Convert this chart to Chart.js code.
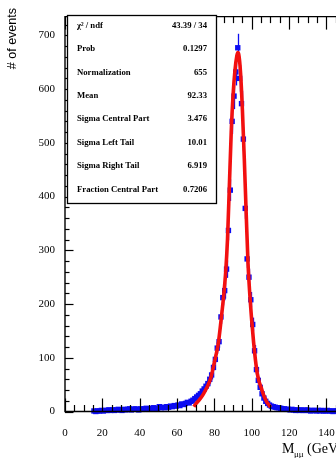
<!DOCTYPE html>
<html><head><meta charset="utf-8">
<script src="https://cdn.jsdelivr.net/npm/chart.js@4/dist/chart.umd.min.js"></script>
<style>
html,body{margin:0;padding:0;background:#fff;overflow:hidden;width:336px;height:458px}
#wrap{position:relative;width:350px;height:458px}
canvas{display:block}
</style></head><body>
<div id="wrap"><canvas id="c" width="350" height="458" style="width:350px;height:458px"></canvas></div>
<script>
// ---- data ----
const massBins = [15.5,16.5,17.5,18.5,19.5,20.5,21.5,22.5,23.5,24.5,25.5,26.5,27.5,28.5,29.5,30.5,31.5,32.5,33.5,34.5,35.5,36.5,37.5,38.5,39.5,40.5,41.5,42.5,43.5,44.5,45.5,46.5,47.5,48.5,49.5,50.5,51.5,52.5,53.5,54.5,55.5,56.5,57.5,58.5,59.5,60.5,61.5,62.5,63.5,64.5,65.5,66.5,67.5,68.5,69.5,70.5,71.5,72.5,73.5,74.5,75.5,76.5,77.5,78.5,79.5,80.5,81.5,82.5,83.5,84.5,85.5,86.5,87.5,88.5,89.5,90.5,91.5,92.5,93.5,94.5,95.5,96.5,97.5,98.5,99.5,100.5,101.5,102.5,103.5,104.5,105.5,106.5,107.5,108.5,109.5,110.5,111.5,112.5,113.5,114.5,115.5,116.5,117.5,118.5,119.5,120.5,121.5,122.5,123.5,124.5,125.5,126.5,127.5,128.5,129.5,130.5,131.5,132.5,133.5,134.5,135.5,136.5,137.5,138.5,139.5,140.5,141.5,142.5,143.5,144.5,145.5,146.5,147.5,148.5,149.5];
const eventCounts = [1,0,1,1,2,1,2,2,3,2,3,2,3,4,3,2,4,3,4,5,3,4,5,4,3,5,4,5,6,4,5,6,7,5,6,9,7,8,7,9,8,10,9,11,10,12,11,14,13,15,17,16,19,21,24,27,30,33,38,42,47,52,60,68,82,97,118,130,176,212,225,265,337,412,540,587,632,677,620,573,507,378,284,250,208,162,113,78,58,45,33,25,19,15,12,10,9,8,7,7,6,5,5,4,4,3,4,3,2,3,2,3,2,2,3,2,1,2,2,1,2,1,2,1,1,2,1,1,0,1,1,0,1,1,0];
const fitMass = [69,70,72,74,76,78,79,80,82,83.5,85,86,87,88,89,90,91,92,92.5,93,94,95,96,97,98,99,100,101,102,103,104,105,106,107,108,109,110];
const fitValues = [9,14,22,32,45,62,76,92,125,168,217,258,320,420,520,590,635,662,668,665,630,560,470,370,275,215,168,128,95,70,55,45,34,25,18,13,8];
const xTickValues = [0,20,40,60,80,100,120,140];
const yTickValues = [0,100,200,300,400,500,600,700];
const statLabels = ['\u03C7\u00B2 / ndf','Prob','Normalization','Mean','Sigma Central Part','Sigma Left Tail','Sigma Right Tail','Fraction Central Part'];
const statValues = ['43.39 / 34','0.1297','655','92.33','3.476','10.01','6.919','0.7206'];

const BLUE = '#0c0cf2';
const RED = '#f21010';
const SERIF = '"Liberation Serif","Times New Roman",serif';
const SANS = '"Liberation Sans",Arial,sans-serif';

const decorPlugin = {
  id: 'decor',
  beforeDatasetsDraw(chart) {
    const {ctx, scales: {x, y}} = chart;
    ctx.save();
    ctx.strokeStyle = BLUE;
    ctx.lineWidth = 1.3;
    massBins.forEach((m, i) => {
      const v = eventCounts[i];
      const e = Math.sqrt(v);
      const px = Math.round(x.getPixelForValue(m)) + 0.5;
      ctx.beginPath();
      ctx.moveTo(px, y.getPixelForValue(v - e));
      ctx.lineTo(px, y.getPixelForValue(v + e));
      ctx.stroke();
    });
    ctx.restore();
  },
  afterDraw(chart) {
    const {ctx, chartArea: a, scales: {x, y}} = chart;
    ctx.save();
    ctx.strokeStyle = '#000';
    ctx.lineWidth = 1.4;
    // frame
    ctx.beginPath();
    ctx.moveTo(a.right + 5, a.top); ctx.lineTo(a.left, a.top);
    ctx.lineTo(a.left, a.bottom); ctx.lineTo(a.right + 5, a.bottom);
    ctx.stroke();
    ctx.lineWidth = 1.2;
    // y ticks (inward)
    for (let v = 0; v <= y.max; v += 20) {
      const py = Math.round(y.getPixelForValue(v)) + 0.5;
      const len = v % 100 === 0 ? 8.5 : 4.5;
      ctx.beginPath(); ctx.moveTo(a.left, py); ctx.lineTo(a.left + len, py); ctx.stroke();
    }
    // x ticks bottom & top (inward)
    for (let m = 0; m <= x.max; m += 5) {
      const px = Math.round(x.getPixelForValue(m)) + 0.5;
      const len = m % 20 === 0 ? 13 : 6.5;
      ctx.beginPath(); ctx.moveTo(px, a.bottom); ctx.lineTo(px, a.bottom - len); ctx.stroke();
      ctx.beginPath(); ctx.moveTo(px, a.top); ctx.lineTo(px, a.top + len); ctx.stroke();
    }
    // stats box
    ctx.fillStyle = '#fff';
    ctx.fillRect(67, 15, 149, 188);
    ctx.lineWidth = 1.3;
    ctx.strokeRect(67.5, 15.5, 149, 188);
    ctx.fillStyle = '#000';
    ctx.font = 'bold 8.7px ' + SERIF;
    ctx.textBaseline = 'middle';
    statLabels.forEach((lab, i) => {
      const ty = 25.5 + i * 23.4;
      ctx.textAlign = 'left';
      ctx.fillText(lab, 77, ty);
      ctx.textAlign = 'right';
      ctx.fillText(statValues[i], 207, ty);
    });
    // y title
    ctx.save();
    ctx.translate(13, 8);
    ctx.rotate(-Math.PI / 2);
    ctx.font = '12.5px ' + SANS;
    ctx.textAlign = 'right';
    ctx.textBaseline = 'middle';
    ctx.fillText('# of events', 0, 0);
    ctx.restore();
    // x title
    ctx.textAlign = 'left';
    ctx.textBaseline = 'alphabetic';
    ctx.font = '14px ' + SERIF;
    ctx.fillText('M', 282, 453);
    ctx.font = '9px ' + SERIF;
    ctx.fillText('\u03BC\u03BC', 294, 457);
    ctx.font = '14px ' + SERIF;
    ctx.fillText('(GeV)', 307, 453);
    ctx.restore();
  }
};

new Chart(document.getElementById('c'), {
  type: 'scatter',
  data: {
    datasets: [
      {
        label: 'fit',
        data: fitMass.map((m, i) => ({x: m, y: fitValues[i]})),
        showLine: true,
        borderColor: RED,
        borderWidth: 3.6,
        pointRadius: 0,
        cubicInterpolationMode: 'monotone',
        fill: false
      },
      {
        label: 'data',
        data: massBins.map((m, i) => ({x: m, y: eventCounts[i]})),
        pointStyle: 'rect',
        pointRadius: 3.8,
        backgroundColor: BLUE,
        borderColor: BLUE,
        borderWidth: 0,
        clip: false
      }
    ]
  },
  options: {
    responsive: false,
    devicePixelRatio: 1,
    animation: false,
    events: [],
    layout: {padding: {left: 0, top: 10, right: 3, bottom: 0}},
    plugins: {legend: {display: false}, tooltip: {enabled: false}},
    scales: {
      x: {
        type: 'linear', min: 0, max: 150,
        grid: {display: false, drawTicks: false},
        border: {display: false},
        afterBuildTicks(s) { s.ticks = xTickValues.map(v => ({value: v})); },
        afterFit(s) { s.height = 46.5; },
        ticks: {padding: 15, color: '#000', font: {family: SERIF, size: 11}, maxRotation: 0, autoSkip: false}
      },
      y: {
        type: 'linear', min: 0, max: 735,
        grid: {display: false, drawTicks: false},
        border: {display: false},
        afterBuildTicks(s) { s.ticks = yTickValues.map(v => ({value: v})); },
        afterFit(s) { s.width = 65; },
        ticks: {padding: 10, color: '#000', font: {family: SERIF, size: 11}}
      }
    }
  },
  plugins: [decorPlugin]
});
</script>
</body></html>
